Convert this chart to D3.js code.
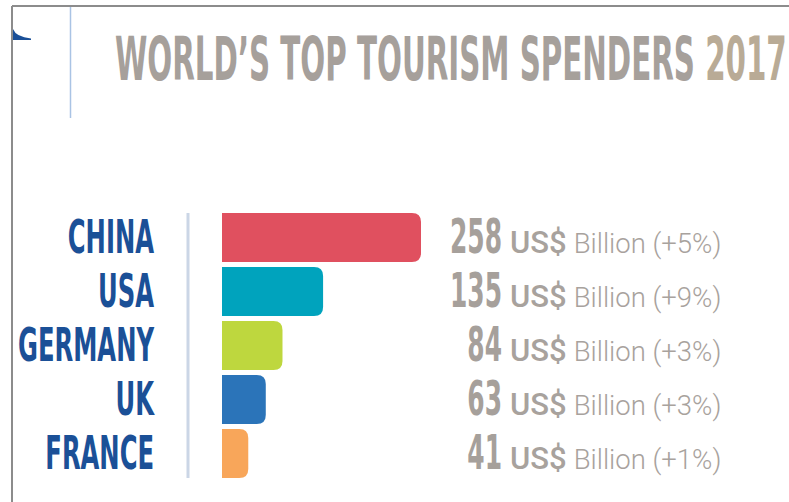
<!DOCTYPE html>
<html>
<head>
<meta charset="utf-8">
<script src="https://cdn.jsdelivr.net/npm/d3@7"></script>
<style>
  body { margin: 0; background: #fff; }
  svg { display: block; }
</style>
</head>
<body>
<svg id="chart" width="789" height="502"></svg>
<script>
var countries = ['CHINA', 'USA', 'GERMANY', 'UK', 'FRANCE'];
var spending = [258, 135, 84, 63, 41];
var growth = ['+5%', '+9%', '+3%', '+3%', '+1%'];
var barColors = ['#e0505f', '#00a3bd', '#bed73e', '#2b74b9', '#f8a65a'];

var svg = d3.select('#chart');
var condensed = "'Liberation Sans Narrow', 'DejaVu Sans Condensed', 'Arial Narrow', sans-serif";

// frame
svg.append('line').attr('x1', 12).attr('y1', 6).attr('x2', 789).attr('y2', 6)
  .attr('stroke', '#8c8c8c').attr('stroke-width', 2);
svg.append('line').attr('x1', 12).attr('y1', 6).attr('x2', 12).attr('y2', 502)
  .attr('stroke', '#8c8c8c').attr('stroke-width', 2);
svg.append('line').attr('x1', 70.5).attr('y1', 7).attr('x2', 70.5).attr('y2', 118)
  .attr('stroke', '#a9c3e4').attr('stroke-width', 1.5);
svg.append('path').attr('d', 'M13,29 Q16,37 31,38.5 L31,40 L13,40 Z').attr('fill', '#1a4f97');

// fit a text group horizontally to a target width
function fitX(g, target, x0) {
  var w = g.node().getBBox().width;
  g.attr('transform', 'translate(' + x0 + ',0) scale(' + (target / w) + ',1)');
  return target / w;
}

// title
var title = svg.append('g');
var tt = title.append('text')
  .attr('x', 0).attr('y', 80)
  .attr('font-family', condensed).attr('font-weight', 'bold')
  .attr('font-size', 61);
tt.append('tspan').attr('fill', '#a6a09b').text('WORLD\u2019S TOP TOURISM SPENDERS ');
tt.append('tspan').attr('fill', '#b9ab96').text('2017');
fitX(title, 672, 115);

// scales
var y = d3.scaleBand().domain(countries).range([213, 478]).paddingInner(0.093).paddingOuter(0);
var xMin = 8;
var x = d3.scaleLinear().domain([xMin, d3.max(spending)]).range([222, 421]);

// separator
svg.append('line').attr('x1', 188).attr('x2', 188).attr('y1', 213).attr('y2', 478)
  .attr('stroke', '#cbd6e6').attr('stroke-width', 3);

// bars with rounded right ends
function barPath(x0, y0, w, h, r) {
  r = Math.min(r, w, h / 2);
  return 'M' + x0 + ',' + y0 +
    'H' + (x0 + w - r) +
    'Q' + (x0 + w) + ',' + y0 + ' ' + (x0 + w) + ',' + (y0 + r) +
    'V' + (y0 + h - r) +
    'Q' + (x0 + w) + ',' + (y0 + h) + ' ' + (x0 + w - r) + ',' + (y0 + h) +
    'H' + x0 + 'Z';
}

svg.append('g').selectAll('path')
  .data(countries)
  .join('path')
  .attr('d', function(c, i) {
    return barPath(x(xMin), y(c), x(spending[i]) - x(xMin), y.bandwidth(), 9);
  })
  .attr('fill', function(c, i) { return barColors[i]; });

var base = function(c) { return y(c) + y.bandwidth() / 2 + 15.5; };

// country labels
var labels = svg.append('g');
labels.selectAll('text')
  .data(countries)
  .join('text')
  .attr('x', 0).attr('y', base)
  .attr('text-anchor', 'end')
  .attr('font-family', condensed).attr('font-weight', 'bold')
  .attr('font-size', 47)
  .attr('fill', '#1b5097')
  .text(function(c) { return c; });
// GERMANY is the widest label: 18 -> 154
var gw = labels.selectAll('text').filter(function(c) { return c === 'GERMANY'; }).node().getComputedTextLength();
labels.attr('transform', 'translate(154,0) scale(' + (136 / gw) + ',1)');

// values
var nums = svg.append('g');
nums.selectAll('text')
  .data(countries)
  .join('text')
  .attr('x', 0).attr('y', base)
  .attr('text-anchor', 'end')
  .attr('font-family', condensed).attr('font-weight', 'bold')
  .attr('font-size', 48)
  .attr('fill', '#a6a09b')
  .text(function(c, i) { return spending[i]; });
var nw = nums.select('text').node().getComputedTextLength();
nums.attr('transform', 'translate(502,0) scale(' + (52 / nw) + ',1)');

var units = svg.append('g').selectAll('text')
  .data(countries)
  .join('text')
  .attr('x', 510).attr('y', base)
  .attr('font-family', 'Roboto, "Liberation Sans", sans-serif')
  .attr('fill', '#a8a29d');
units.append('tspan')
  .attr('font-size', 31).attr('font-weight', 500)
  .text('US$');
units.append('tspan')
  .attr('dx', 7)
  .attr('font-size', 27.5).attr('font-weight', 300)
  .text(function(c, i) { return 'Billion (' + growth[i] + ')'; });
</script>
</body>
</html>
